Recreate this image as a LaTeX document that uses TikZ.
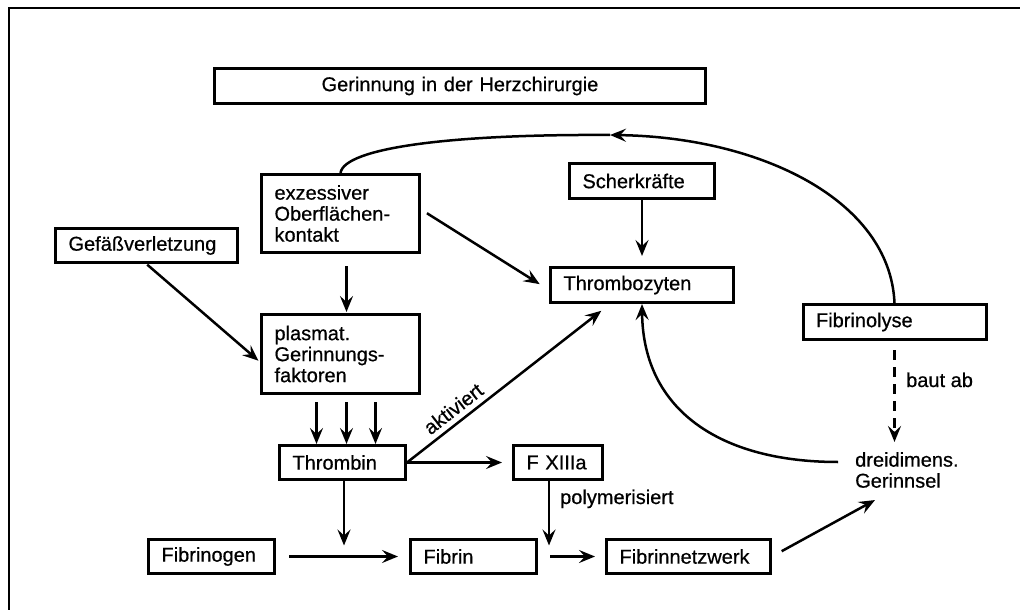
\documentclass[tikz,border=0pt]{standalone}
\usepackage{fontspec}
\setmainfont{Liberation Sans}[FakeBold=0.6]
\usetikzlibrary{arrows.meta}
\tikzset{
  box/.style={draw, line width=3bp, inner xsep=13bp, inner ysep=0bp, align=left},
  txt/.style={inner sep=0bp, align=left},
  arr/.style={line width=2.5bp, -{Stealth[length=16bp,width=13bp,inset=6bp]}},
  curve/.style={line width=2.5bp},
}
\begin{document}
\begin{tikzpicture}[x=1bp, y=-1bp, font=\fontsize{20bp}{21bp}\selectfont]
\useasboundingbox (0,0) rectangle (1020,610);
% frame
\draw[line width=2.5bp] (9,612) -- (9,8) -- (1022,8);
% boxes
\node[box, text width=465bp, minimum height=35bp, align=center] (title) at (460,86) {Gerinnung in der Herzchirurgie};
\node[box, text width=132bp, minimum height=78bp] (exz) at (340.5,213.5) {exzessiver\\Oberflächen-\\kontakt};
\node[box, text width=156bp, minimum height=34bp] (gef) at (146.5,245.5) {Gefäßverletzung};
\node[box, text width=119bp, minimum height=35bp] (sch) at (642,181) {Scherkräfte};
\node[box, text width=157bp, minimum height=35bp] (thz) at (642,285) {Thrombozyten};
\node[box, text width=157bp, minimum height=35bp] (fl) at (894.5,322) {Fibrinolyse};
\node[box, text width=132bp, minimum height=79bp] (plasma) at (340.5,354) {plasmat.\\Gerinnungs-\\faktoren};
\node[box, text width=100bp, minimum height=34bp] (thr) at (342.5,462.5) {Thrombin};
\node[box, text width=63bp, minimum height=34bp] (fxiii) at (558,462.5) {F XIIIa};
\node[box, text width=100bp, minimum height=34bp] (fbg) at (211.5,556.5) {Fibrinogen};
\node[box, text width=100bp, minimum height=34bp] (fbn) at (473.5,556.5) {Fibrin};
\node[box, text width=138bp, minimum height=34bp] (net) at (688.5,556.5) {Fibrinnetzwerk};
\node[txt, anchor=west] (clot) at (855,470) {dreidimens.\\Gerinnsel};
% junctions on the lower row
\coordinate (j1) at (344,556.5);
\coordinate (j2) at (549,556.5);
\coordinate (top) at (610,135);
% connectors
\draw[arr] (fl.north) .. controls (890,200) and (760,137) .. (top);
\draw[curve] (top) .. controls (450,134) and (344,148) .. (exz.north);
\draw[arr, shorten <=7bp, shorten >=11bp] ([yshift=4bp]exz.east) -- ([yshift=-5bp]thz.west);
\draw[arr, shorten >=10bp] (sch.south) -- (thz.north);
\draw[arr, shorten <=12bp, shorten >=1bp] ([xshift=6bp]exz.south) -- ([xshift=6bp]plasma.north);
\draw[arr, shorten <=1bp, shorten >=2bp] (gef.south) -- ([yshift=-8bp]plasma.west);
\foreach \dx in {-24,6,35}
  \draw[arr, shorten <=7bp] ([xshift=\dx bp]plasma.south) -- ([xshift=\dx bp]plasma.south |- thr.north);
\draw[arr, shorten >=11bp] (thr.east) -- node[pos=0.27, sloped, above=2bp] {aktiviert} ([xshift=-32bp]thz.south);
\draw[arr, shorten >=10bp] (thr.east) -- (fxiii.west);
\draw[arr, shorten >=11bp] (j1 |- thr.south) -- (j1);
\draw[arr, shorten <=13bp, shorten >=11bp] (fbg.east) -- (fbn.west);
\draw[arr, shorten >=11bp] (j2 |- fxiii.south) -- (j2);
\node[txt, anchor=base west] (poly) at (560,504) {polymerisiert};
\draw[arr, shorten <=12bp, shorten >=10bp] (fbn.east) -- (net.west);
\draw[arr, shorten <=11bp] (net.east) -- ([xshift=20bp,yshift=-12bp]clot.south west);
\draw[arr, line width=3bp, dash pattern=on 10bp off 7bp, shorten <=9bp, shorten >=10bp] (fl.south) -- (fl.south |- clot.north);
\node[txt, anchor=base west] (abbau) at (906,387) {baut ab};
\draw[arr, shorten <=17bp] ([yshift=8bp]clot.west) .. controls (720,462) and (643,410) .. (thz.south);
\end{tikzpicture}
\end{document}
